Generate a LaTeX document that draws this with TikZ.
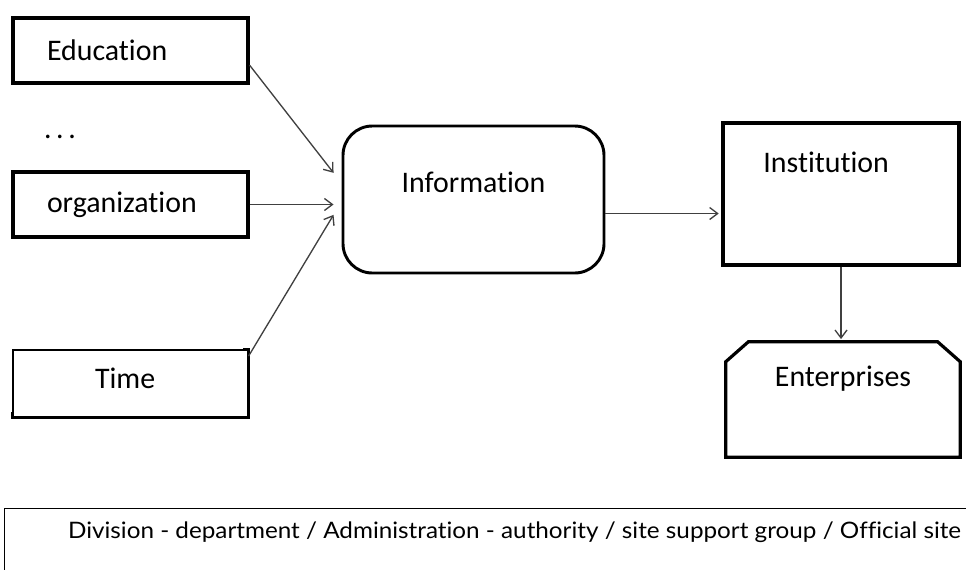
\documentclass[tikz,border=0pt]{standalone}
\usepackage{fontspec}
\setmainfont{Carlito}[Ligatures=NoCommon]
\newfontfamily\notefont{Lato}[Ligatures=NoCommon, FakeStretch=1.07]
\usetikzlibrary{arrows.meta}

\def\pxu{0.75pt}
\tikzset{
	inbox/.style={draw, line width=2.4pt, minimum width=235*\pxu, minimum height=65*\pxu, text width=167*\pxu, inner xsep=34*\pxu, align=left},
	timebox/.style={draw, line width=0.8pt, minimum width=235*\pxu, minimum height=67*\pxu},
	infobox/.style={draw, line width=2.2pt, rounded corners=22pt, minimum width=261*\pxu, minimum height=147*\pxu},
	instbox/.style={draw, line width=2.4pt, minimum width=236*\pxu, minimum height=142*\pxu},
	entbox/.style={minimum width=234*\pxu, minimum height=115*\pxu, inner sep=0pt},
	notebox/.style={draw, line width=0.8pt, anchor=north west, minimum width=1020*\pxu, minimum height=100*\pxu},
	lbl/.style={font=\fontsize{22.4}{26}\selectfont},
	arr/.style={-{Straight Barb[length=6pt,width=9pt]}, line width=1pt, black!75},
}

\begin{document}
\begin{tikzpicture}[x=0.75pt,y=-0.75pt, every node/.style={font=\fontsize{22.4}{26}\selectfont}]
	\useasboundingbox (0,0) rectangle (966,569);
	
	% sources on the left
	\node[inbox] (edu) at (130.5,50.5) {Education};
	\node (dots) at (60,137) {.\hspace{3.4pt}.\hspace{3.4pt}.};
	\node[inbox] (org) at (130.5,204.5) {organization};
	\node[timebox] (time) at (130.5,383.5) {};
	\draw[line width=2.4pt] ([xshift=-4pt]time.north east) -- ++(4pt,0) -- (time.south east) -- (time.south west) -- ++(0,4pt);
	\node[lbl] at ([xshift=-4pt,yshift=4pt]time.center) {Time};
	
	% middle and right
	\node[infobox] (info) at (473.5,199.5) {};
	\node[lbl] at ([yshift=13pt]info.center) {Information};
	\node[instbox] (inst) at (841,194) {};
	\node[lbl, anchor=west] at ([xshift=28pt,yshift=-31pt]inst.north west) {Institution};
	\node[entbox] (ent) at (843,399.5) {};
	\draw[line width=2.4pt, line join=miter] ([xshift=17pt]ent.north west) -- ([xshift=-17pt]ent.north east) -- ([yshift=-15pt]ent.north east)
		-- (ent.south east) -- (ent.south west) -- ([yshift=-15pt]ent.north west) -- cycle;
	\node[lbl] at ([yshift=-28pt]ent.north) {Enterprises};
	
	% bottom strip
	\node[notebox] (note) at (4,508) {};
	\node[font=\notefont\fontsize{17}{20}\selectfont] at ([yshift=-18.5pt]note.north) {Division - department / Administration - authority / site support group / Official site};
	
	% connectors
	\draw[arr] ([yshift=-11pt]edu.east) -- ([xshift=-6pt,yshift=20pt]info.west);
	\draw[arr] (org.east) -- ([xshift=-6pt]org.east -| info.west);
	\draw[arr] ([yshift=-5pt]time.north east) -- ([xshift=-6pt,yshift=-11.5pt]info.west);
	\draw[arr] ([yshift=-10.5pt]info.east) -- ([yshift=-10.5pt,xshift=-2pt]info.east -| inst.west);
	\draw[arr] (inst.south) -- ([yshift=2pt]inst.south |- ent.north);
	
\end{tikzpicture}
\end{document}
